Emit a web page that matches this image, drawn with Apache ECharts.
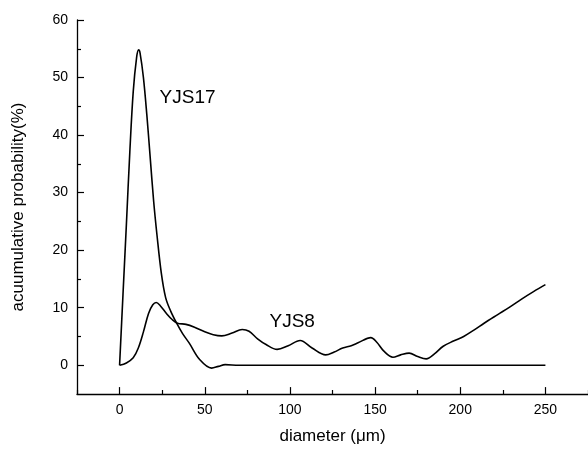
<!DOCTYPE html>
<html>
<head>
<meta charset="utf-8">
<script src="https://cdn.jsdelivr.net/npm/echarts@6/dist/echarts.min.js"></script>
<style>
html, body { margin: 0; padding: 0; background: #fff; }
#chart { width: 588px; height: 450px; }
</style>
</head>
<body>
<div id="chart"></div>
<script>
// YJS17 curve (diameter um, probability %)
const yjs17X = [0, 2, 4, 6, 8, 10, 11.2, 12, 14, 16, 18, 20, 22, 24.5, 27, 30, 33.5, 37, 41, 47, 54, 58, 62, 70, 100, 150, 200, 250];
const yjs17Y = [0, 12.3, 24.5, 37, 47.5, 53.5, 54.8, 54.3, 50, 43.5, 36, 28.5, 22.5, 16, 11.8, 9.4, 7.3, 5.5, 3.8, 1, -0.5, -0.2, 0.1, 0, 0, 0, 0, 0];
// YJS8 curve
const yjs8X = [0, 4, 8, 11, 14, 17, 19.5, 21.5, 24, 27.5, 31, 34, 39, 44, 50, 55, 60, 66, 72, 76, 81, 86, 92.5, 99, 106, 113, 121, 126, 131, 136, 140, 147.5, 151, 155, 160.5, 165, 170, 175, 180, 185, 190, 196, 202, 208, 214, 222, 229, 236, 243, 250];
const yjs8Y = [0, 0.4, 1.3, 3, 5.8, 9, 10.5, 10.9, 10.3, 9, 7.9, 7.3, 7.1, 6.6, 5.8, 5.3, 5.1, 5.6, 6.2, 5.9, 4.6, 3.6, 2.75, 3.4, 4.3, 3, 1.8, 2.3, 3, 3.4, 3.9, 4.8, 4, 2.5, 1.4, 1.8, 2.1, 1.5, 1.1, 2, 3.3, 4.2, 5, 6.1, 7.3, 8.8, 10.1, 11.5, 12.8, 14];

const xMajor = [0, 50, 100, 150, 200, 250];
const yMajor = [0, 10, 20, 30, 40, 50, 60];
const yMinor = [5, 15, 25, 35, 45, 55];

// curve names and where they are written (data coords)
const seriesNames = ['YJS17', 'YJS8'];
const nameAt = [[23.5, 46.5], [88, 7.6]];

const xMin = -25, xMax = 275, yMin = -5, yMax = 60;

const font = '"Liberation Sans", Arial, sans-serif';
const zip = (xs, ys) => xs.map((x, i) => [x, ys[i]]);

const chart = echarts.init(document.getElementById('chart'));

const tickStyle = { color: '#000', width: 1.2 };

// long ticks on the labelled values (axis ticks there do not show up), ~7px long
const majorTicks = xMajor.map(v => [{ coord: [v, yMin] }, { coord: [v, yMin + 1.2] }])
	.concat(yMajor.map(v => [{ coord: [xMin, v] }, { coord: [xMin + 4.1, v] }]));

const lineSeries = (name, data, idx) => ({
	name: name,
	type: 'line',
	data: data,
	smooth: 0.35,
	symbol: 'none',
	lineStyle: { color: '#000', width: 1.6 },
	markPoint: {
		symbol: 'circle',
		symbolSize: 0,
		data: [{ coord: nameAt[idx], value: name }],
		label: {
			show: true,
			position: 'right',
			distance: 0,
			formatter: name,
			color: '#000',
			fontFamily: font,
			fontSize: 19
		}
	},
	markLine: idx === 0 ? {
		silent: true,
		symbol: ['none', 'none'],
		label: { show: false },
		lineStyle: Object.assign({ type: 'solid' }, tickStyle),
		data: majorTicks
	} : undefined
});

const axisName = (name, gap) => ({
	name: name,
	nameLocation: 'middle',
	nameGap: gap,
	nameTextStyle: { color: '#000', fontFamily: font, fontSize: 17 }
});

const option = {
	animation: false,
	backgroundColor: '#fff',
	grid: { left: 77, right: 0, top: 20, bottom: 52 },
	xAxis: Object.assign({
		type: 'value',
		min: xMin,
		max: xMax,
		// ticks counted from min: the short ones at 25, 75, 125 ...
		interval: 50,
		axisLine: { show: true, onZero: false, lineStyle: { color: '#000', width: 1.3 } },
		axisTick: { show: true, inside: true, length: 4, lineStyle: tickStyle },
		axisLabel: { show: true, customValues: xMajor, color: '#000', fontFamily: font, fontSize: 14, margin: 9 },
		splitLine: { show: false }
	}, axisName('diameter (\u03bcm)', 34)),
	yAxis: [
		Object.assign({
			type: 'value',
			min: yMin,
			max: yMax,
			position: 'left',
			axisLine: { show: true, onZero: false, lineStyle: { color: '#000', width: 1.3 } },
			axisTick: { show: false },
			axisLabel: { show: true, customValues: yMajor, color: '#000', fontFamily: font, fontSize: 14, margin: 9 },
			splitLine: { show: false }
		}, axisName('acuumulative probability(%)', 50)),
		{
			type: 'value',
			min: yMin,
			max: yMax,
			position: 'left',
			axisLine: { show: false, onZero: false },
			axisTick: { show: true, inside: true, length: 4, customValues: yMinor, lineStyle: tickStyle },
			axisLabel: { show: false },
			splitLine: { show: false }
		}
	],
	series: [
		lineSeries(seriesNames[0], zip(yjs17X, yjs17Y), 0),
		lineSeries(seriesNames[1], zip(yjs8X, yjs8Y), 1)
	]
};

chart.setOption(option);
</script>
</body>
</html>
